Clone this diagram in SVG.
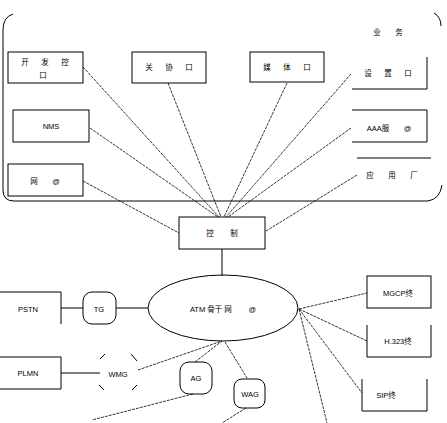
<svg xmlns="http://www.w3.org/2000/svg" width="447" height="423" viewBox="0 0 447 423">
<style>
.b{fill:none;stroke:#000;stroke-width:1}
.c{fill:none;stroke:#000;stroke-width:0.8;stroke-dasharray:3 1}
text{font-family:"Liberation Sans","Noto Sans CJK SC",sans-serif;font-size:7.5px;fill:#000;text-anchor:middle;white-space:pre}
</style>
<rect width="447" height="423" fill="#fff"/>
<g id="container">
<path class="b" d="M13,14 Q3,17 3,30 L3,190 Q3,201 14,201 L428,201 Q440,199 442,185"/>
<path class="b" d="M434,13 Q441,17 441,26"/>
</g>
<g id="connectors">
<line class="c" x1="83" y1="67" x2="219" y2="217"/>
<line class="c" x1="168" y1="83" x2="221" y2="217"/>
<line class="c" x1="90" y1="128" x2="218" y2="217"/>
<line class="c" x1="83" y1="181" x2="179" y2="233"/>
<line class="c" x1="287" y1="83" x2="224" y2="217"/>
<line class="c" x1="351" y1="74" x2="226" y2="217"/>
<line class="c" x1="351" y1="128" x2="228" y2="217"/>
<line class="c" x1="357" y1="175" x2="266" y2="231"/>
<line class="b" x1="222" y1="249" x2="222" y2="276"/>
<line class="b" x1="61" y1="308" x2="83" y2="308"/>
<line class="b" x1="116" y1="308" x2="148" y2="308"/>
<line class="b" x1="61" y1="373" x2="100" y2="373"/>
<line class="c" x1="138" y1="370" x2="222" y2="341"/>
<line class="c" x1="195" y1="362" x2="222" y2="341"/>
<line class="c" x1="225" y1="342" x2="247" y2="378"/>
<line class="c" x1="193" y1="394" x2="92" y2="420"/>
<line class="c" x1="246" y1="408" x2="222" y2="423"/>
<line class="c" x1="299" y1="309" x2="367" y2="293"/>
<line class="c" x1="299" y1="309" x2="367" y2="341"/>
<line class="c" x1="299" y1="309" x2="362" y2="393"/>
<line class="c" x1="299" y1="309" x2="327" y2="423"/>
</g>
<g id="n1"><rect class="b" x="8" y="52" width="75" height="31"/><text x="45" y="65">开      发      控</text><text x="43" y="78">口</text></g>
<g id="n2"><rect class="b" x="132" y="52" width="74" height="31"/><text x="169" y="70">关      协      口</text></g>
<g id="n3"><rect class="b" x="250" y="52" width="74" height="30"/><text x="287" y="70">媒      体      口</text></g>
<g id="n4"><text x="388" y="35">业       务</text></g>
<g id="n5"><path class="b" d="M427,57 L427,89 L352,89"/><text x="388" y="76">设      置      口</text></g>
<g id="n6"><path class="b" d="M352,110 L427,110 L427,142 L352,142"/><text x="389" y="131">AAA服       @</text></g>
<g id="n7"><line class="b" x1="357" y1="158" x2="431" y2="158"/><text x="392" y="178">应       用       厂</text></g>
<g id="n8"><rect class="b" x="13" y="110" width="76" height="32"/><text x="51" y="129">NMS</text></g>
<g id="n9"><rect class="b" x="8" y="164" width="75" height="32"/><text x="45" y="184">网       @</text></g>
<g id="n10"><rect class="b" x="179" y="217" width="86" height="32"/><text x="222" y="236">控        制</text></g>
<g id="n11"><ellipse class="b" cx="223" cy="308" rx="75" ry="33"/><text x="223" y="312">ATM 骨干 网        @</text></g>
<g id="n12"><path class="b" d="M0,292 L61,292 L61,324"/><text x="28" y="312">PSTN</text></g>
<g id="n13"><rect class="b" x="83" y="292" width="33" height="32" rx="9"/><text x="99" y="312">TG</text></g>
<g id="n14"><path class="b" d="M0,357 L61,357 L61,389 L0,389"/><text x="28" y="376">PLMN</text></g>
<g id="n15"><path class="b" d="M100,359 L105,354 M131,354 L137,361 M99,385 L104,390 M132,390 L137,385"/><text x="118" y="377">WMG</text></g>
<g id="n16"><rect class="b" x="180" y="362" width="32" height="32" rx="9"/><text x="196" y="381">AG</text></g>
<g id="n17"><rect class="b" x="234" y="379" width="31" height="29" rx="8"/><text x="250" y="397">WAG</text></g>
<g id="n18"><rect class="b" x="367" y="276" width="64" height="32"/><text x="398" y="296">MGCP终</text></g>
<g id="n19"><path class="b" d="M367,325 L367,357 L431,357 L431,325"/><text x="398" y="344">H.323终</text></g>
<g id="n20"><path class="b" d="M362,379 L362,411 L427,411 L427,379"/><text x="386" y="398">SIP终</text></g>
</svg>
